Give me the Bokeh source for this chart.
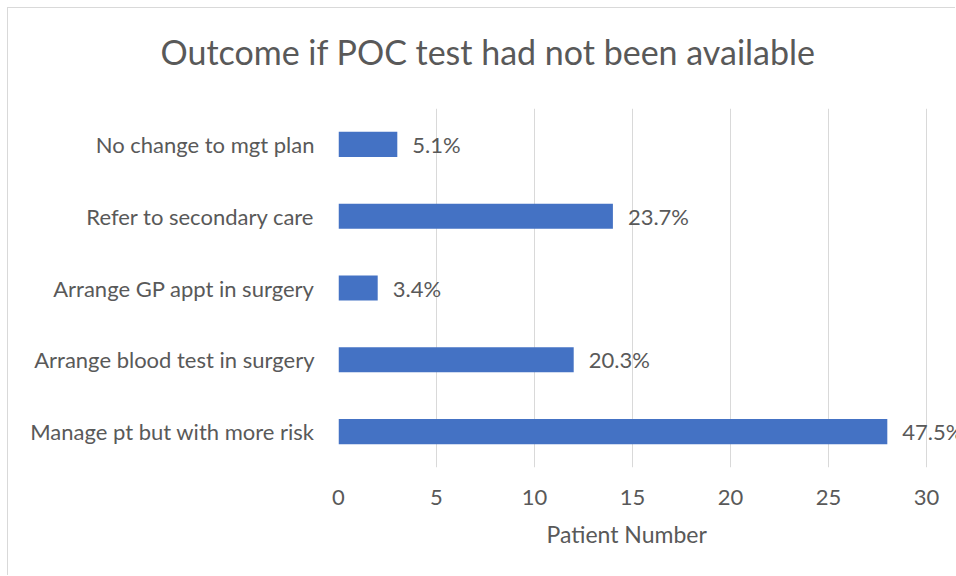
from bokeh.plotting import figure
from bokeh.models import ColumnDataSource, LabelSet, FixedTicker, Range1d, FactorRange, Title
from bokeh.core.properties import value
from bokeh.embed import file_html
from bokeh.resources import INLINE

categories = ["No change to mgt plan", "Refer to secondary care", "Arrange GP appt in surgery",
              "Arrange blood test in surgery", "Manage pt but with more risk"]
values = [3, 14, 2, 12, 28]
pct_labels = ["5.1%", "23.7%", "3.4%", "20.3%", "47.5%"]
x_ticks = [0, 5, 10, 15, 20, 25, 30]

FONT = "Lato"
TXT = "#595959"
GRID = "#d9d9d9"

src = ColumnDataSource(dict(cat=categories, val=values, pct=pct_labels))

p = figure(width=948, height=568, output_backend="svg", toolbar_location=None,
           y_range=FactorRange(factors=list(reversed(categories))),
           x_range=Range1d(0, 31.53),
           min_border_left=330, min_border_right=0, min_border_top=100, min_border_bottom=109)

p.hbar(y="cat", right="val", height=0.35, source=src, color="#4472C4", line_color=None)

labels = LabelSet(x="val", y="cat", text="pct", source=src, x_offset=15,
                  text_baseline="middle", text_font=value(FONT), text_font_size=value("22px"),
                  text_color=TXT)
p.add_layout(labels)

p.title.text = "Outcome if POC test had not been available"
p.title.text_font = FONT
p.title.text_font_size = "34px"
p.title.text_font_style = "normal"
p.title.text_color = TXT
p.title.align = "left"
p.title.offset = -178
p.title.standoff = 38
p.title.padding = dict(top=0, right=0, bottom=18, left=0)

xlab = Title(text="Patient Number", align="left", offset=208, text_font=FONT,
             text_font_size="23px", text_font_style="normal", text_color=TXT, standoff=20)
p.add_layout(xlab, "below")

p.outline_line_color = None
p.background_fill_color = "white"
p.border_fill_color = "white"

p.xaxis.ticker = FixedTicker(ticks=x_ticks)
p.xaxis.axis_line_color = None
p.xaxis.major_tick_line_color = None
p.xaxis.minor_tick_line_color = None
p.xaxis.major_label_text_font = FONT
p.xaxis.major_label_text_font_size = "22px"
p.xaxis.major_label_text_color = TXT
p.xaxis.major_label_standoff = 16

p.yaxis.axis_line_color = None
p.yaxis.major_tick_line_color = None
p.yaxis.minor_tick_line_color = None
p.yaxis.major_label_text_font = FONT
p.yaxis.major_label_text_font_size = "22px"
p.yaxis.major_label_text_color = TXT
p.yaxis.major_label_standoff = 18

p.xgrid.grid_line_color = GRID
p.xgrid.grid_line_width = 1
p.ygrid.grid_line_color = None

p.styles = {"margin-left": "8px", "margin-top": "8px", "box-shadow": "-1px -1px 0 #d9d9d9"}

open("out.html", "w").write(file_html(p, INLINE))
